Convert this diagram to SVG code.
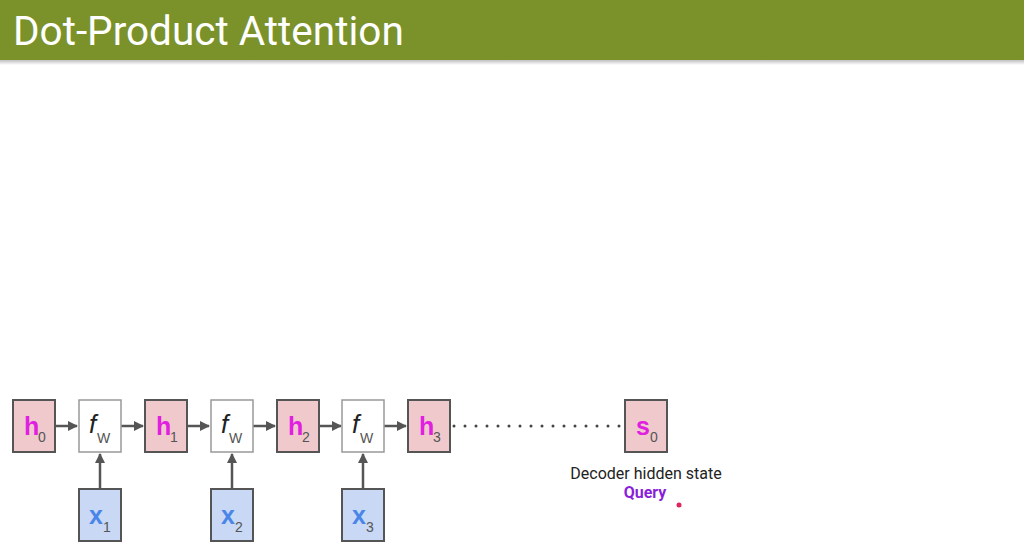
<svg xmlns="http://www.w3.org/2000/svg" width="1024" height="545" viewBox="0 0 1024 545">
  <defs>
    <marker id="arrow" viewBox="0 0 10 10" refX="9" refY="5" markerWidth="4" markerHeight="4" orient="auto">
      <path d="M0,0 L10,5 L0,10 z" fill="#555"/>
    </marker>
    <linearGradient id="shadow" x1="0" y1="0" x2="0" y2="1">
      <stop offset="0" stop-color="#000" stop-opacity="0.25"/>
      <stop offset="1" stop-color="#000" stop-opacity="0"/>
    </linearGradient>
  </defs>
  <style>
    .hid { fill: #f0c9cd; stroke: #555; stroke-width: 2; }
    .fn { fill: #fff; stroke: #999; stroke-width: 1.5; }
    .inp { fill: #c9d8f5; stroke: #555; stroke-width: 2; }
    .main { font-family: "Liberation Sans", Arial, sans-serif; font-weight: bold; font-size: 25px; }
    .h { fill: #e020e0; }
    .x { fill: #4a86e8; }
    .sub { font-family: "Liberation Sans", Arial, sans-serif; font-size: 14px; fill: #555; }
    .f { font-family: "Liberation Sans", Arial, sans-serif; font-style: italic; font-size: 26px; fill: #222; }
    .conn { stroke: #555; stroke-width: 2.5; fill: none; }
  </style>

  <rect width="1024" height="545" fill="#fff"/>

  <!-- title bar -->
  <rect x="0" y="0" width="1024" height="60" fill="#7b922a"/>
  <rect x="0" y="60" width="1024" height="5" fill="url(#shadow)"/>
  <text x="13" y="45" font-family="Roboto, 'Liberation Sans', sans-serif" font-size="40.5" fill="#fff">Dot-Product Attention</text>

  <!-- connectors -->
  <g id="connectors">
    <line class="conn" x1="55" y1="426" x2="77" y2="426" marker-end="url(#arrow)"/>
    <line class="conn" x1="121" y1="426" x2="143" y2="426" marker-end="url(#arrow)"/>
    <line class="conn" x1="187" y1="426" x2="209" y2="426" marker-end="url(#arrow)"/>
    <line class="conn" x1="253" y1="426" x2="275" y2="426" marker-end="url(#arrow)"/>
    <line class="conn" x1="319" y1="426" x2="341" y2="426" marker-end="url(#arrow)"/>
    <line class="conn" x1="384" y1="426" x2="406" y2="426" marker-end="url(#arrow)"/>
    <line class="conn" x1="100" y1="489" x2="100" y2="454" marker-end="url(#arrow)"/>
    <line class="conn" x1="232" y1="489" x2="232" y2="454" marker-end="url(#arrow)"/>
    <line class="conn" x1="363" y1="489" x2="363" y2="454" marker-end="url(#arrow)"/>
    <line x1="454" y1="426" x2="624" y2="426" stroke="#444" stroke-width="3" stroke-linecap="round" stroke-dasharray="0 11"/>
  </g>

  <!-- encoder hidden states -->
  <g id="h0"><rect class="hid" x="13" y="400" width="42" height="52"/><text class="main h" x="24" y="435">h</text><text class="sub" x="38" y="442">0</text></g>
  <g id="h1"><rect class="hid" x="145" y="400" width="42" height="52"/><text class="main h" x="156" y="435">h</text><text class="sub" x="170" y="442">1</text></g>
  <g id="h2"><rect class="hid" x="277" y="400" width="42" height="52"/><text class="main h" x="288" y="435">h</text><text class="sub" x="302" y="442">2</text></g>
  <g id="h3"><rect class="hid" x="408" y="400" width="42" height="52"/><text class="main h" x="419" y="435">h</text><text class="sub" x="433" y="442">3</text></g>

  <!-- recurrent cells -->
  <g id="fw1"><rect class="fn" x="79" y="400" width="42" height="52"/><text class="f" x="89" y="433">f</text><text class="sub" x="97" y="443">W</text></g>
  <g id="fw2"><rect class="fn" x="211" y="400" width="42" height="52"/><text class="f" x="221" y="433">f</text><text class="sub" x="229" y="443">W</text></g>
  <g id="fw3"><rect class="fn" x="342" y="400" width="42" height="52"/><text class="f" x="352" y="433">f</text><text class="sub" x="360" y="443">W</text></g>

  <!-- inputs -->
  <g id="x1"><rect class="inp" x="79" y="489" width="42" height="52"/><text class="main x" x="89" y="524">x</text><text class="sub" x="103" y="532">1</text></g>
  <g id="x2"><rect class="inp" x="211" y="489" width="42" height="52"/><text class="main x" x="221" y="524">x</text><text class="sub" x="235" y="532">2</text></g>
  <g id="x3"><rect class="inp" x="342" y="489" width="42" height="52"/><text class="main x" x="352" y="524">x</text><text class="sub" x="366" y="532">3</text></g>

  <!-- decoder state -->
  <g id="s0">
    <rect class="hid" x="625" y="400" width="42" height="52"/>
    <text class="main h" x="636" y="435">s</text><text class="sub" x="650" y="442">0</text>
    <text x="646" y="479" text-anchor="middle" font-family="Roboto, 'Liberation Sans', sans-serif" font-size="16" fill="#222">Decoder hidden state</text>
    <text x="645" y="498" text-anchor="middle" font-family="Roboto, 'Liberation Sans', sans-serif" font-weight="bold" font-size="16" fill="#8a1fd8">Query</text>
  </g>

  <circle cx="679" cy="505" r="2.5" fill="#e0245e"/>
</svg>
